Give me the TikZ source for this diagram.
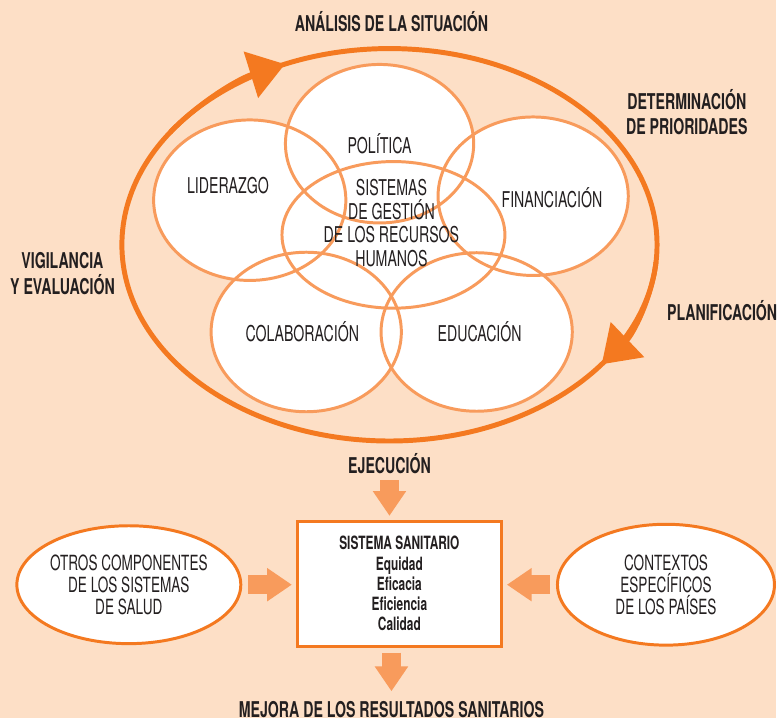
\documentclass[tikz,border=0pt]{standalone}
\usepackage{fontspec}
\setmainfont{TeX Gyre Heros}[FakeStretch=0.65]
\usepackage{xcolor}
\usetikzlibrary{arrows.meta, shapes.geometric}
\definecolor{peach}{HTML}{FDDFC6}
\definecolor{deeporange}{HTML}{F47920}
\definecolor{softorange}{HTML}{F89B5C}
\definecolor{inkgray}{HTML}{231F20}

\begin{document}
\begin{tikzpicture}[
  x=0.02cm, y=-0.02cm,
  font=\fontsize{12.5}{13.6}\selectfont, text=inkgray,
  bubble/.style={ellipse, inner sep=0pt},
  ringline/.style={draw=softorange, line width=0.06cm},
  heading/.style={font=\bfseries\fontsize{12.5}{14.7}\selectfont, align=center},
  cycle/.style={draw=deeporange, line width=0.1cm},
  cycletip/.style={cycle, -{Triangle[length=0.72cm, width=0.96cm]}},
  fatarrow/.style={draw=softorange, line width=0.38cm, -{Triangle[length=0.5cm, width=0.64cm]}},
  sidebox/.style={ellipse, draw=deeporange, line width=0.06cm, fill=white, align=center,
    inner sep=0pt, font=\fontsize{12}{12.8}\selectfont}
]
  \fill[peach] (0,0) rectangle (783,724);

  % outer cycle
  \coordinate (hub) at (393,247);
  \draw[cycle] (hub) ellipse [x radius=270, y radius=198];
  \draw[cycletip] (hub) ++(215:270 and 198) arc [start angle=215, end angle=247, x radius=270, y radius=198];
  \draw[cycletip] (hub) ++(5:270 and 198) arc [start angle=5, end angle=37.5, x radius=270, y radius=198];

  % the six bubbles: fills first, then outlines
  \foreach \nm/\x/\y/\w/\h in {lid/252/202/3.88/3.24, pol/383/145/3.8/3.2, fin/538/198/3.84/3.2,
                               sis/397/237/4.5/2.96, col/309/335/3.84/3.22, edu/481/335/3.86/3.2}
    \node[bubble, fill=white, minimum width=\w cm, minimum height=\h cm] at (\x,\y) {};
  \foreach \nm/\x/\y/\w/\h in {lid/252/202/3.88/3.24, pol/383/145/3.8/3.2, fin/538/198/3.84/3.2,
                               sis/397/237/4.5/2.96, col/309/335/3.84/3.22, edu/481/335/3.86/3.2}
    \node[bubble, ringline, minimum width=\w cm, minimum height=\h cm] (\nm) at (\x,\y) {};

  \node (tpol) at (383,145) {POLÍTICA};
  \node (tlid) at (230,187) {LIDERAZGO};
  \node (tfin) at (557,200) {FINANCIACIÓN};
  \node[align=center] (tsis) at (395,225) {SISTEMAS\\DE GESTIÓN\\DE LOS RECURSOS\\HUMANOS};
  \node (tcol) at (305,335) {COLABORACIÓN};
  \node (tedu) at (484,335) {EDUCACIÓN};

  % stage labels
  \node[heading] (ana) at (395,22) {ANÁLISIS DE LA SITUACIÓN};
  \node[heading] (det) at (693,113) {DETERMINACIÓN\\DE PRIORIDADES};
  \node[heading] (vig) at (63,276) {VIGILANCIA\\Y EVALUACIÓN};
  \node[heading, anchor=west] (plan) at (667,313) {PLANIFICACIÓN};
  \node[heading] (ejec) at (393,468) {EJECUCIÓN};
  \node[heading] (mejora) at (395,716) {MEJORA DE LOS RESULTADOS SANITARIOS};

  % health system and its inputs
  \node[draw=deeporange, line width=0.06cm, fill=white, minimum width=4.12cm, minimum height=2.52cm,
    align=center, font=\bfseries\fontsize{10.5}{11.6}\selectfont] (sys) at (403,589)
    {SISTEMA SANITARIO\\Equidad\\Eficacia\\Eficiencia\\Calidad};
  \node[sidebox, minimum width=4.52cm, minimum height=2.38cm] (otros) at (130,590)
    {OTROS COMPONENTES\\DE LOS SISTEMAS\\DE SALUD};
  \node[sidebox, minimum width=4.38cm, minimum height=2.44cm] (ctx) at (672,590)
    {CONTEXTOS\\ESPECÍFICOS\\DE LOS PAÍSES};

  \draw[fatarrow, shorten >=0.08cm] (ejec) -- (ejec |- sys.north);
  \draw[fatarrow, shorten <=0.12cm, shorten >=0.08cm] (otros) -- (otros -| sys.west);
  \draw[fatarrow, shorten <=0.12cm, shorten >=0.08cm] (ctx) -- (ctx -| sys.east);
  \draw[fatarrow, shorten <=0.1cm, shorten >=0.08cm] (mejora |- sys.south) -- (mejora);
\end{tikzpicture}
\end{document}
